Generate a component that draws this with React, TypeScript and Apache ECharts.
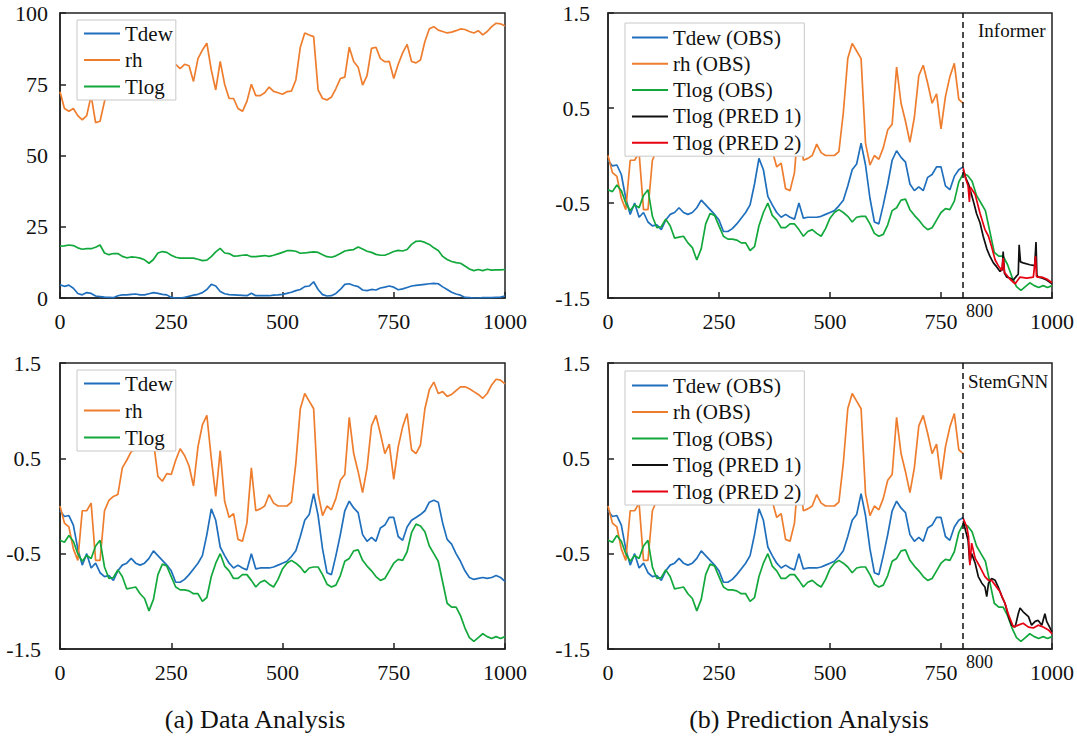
import React, { useEffect, useRef } from "react";
import * as echarts from "echarts";

// x positions of observed samples (every 10 steps)
const xs: number[] = Array.from({ length: 101 }, (_, i) => i * 10);

// ---- raw data (panel a, top) ----
const tdewRaw = [
  4.6, 4.1, 4.5, 3.4, 1.6, 1.1, 1.9, 1.6, 0.7, 0.5,
  0.3, 0.2, 0.1, 0.8, 1.1, 1.1, 1.3, 1.4, 1.1, 1.1,
  1.5, 1.9, 1.6, 1.3, 1.1, 0.2, 0, 0, 0.2, 0.6,
  1.0, 1.3, 1.9, 3.0, 4.8, 4.2, 2.3, 1.5, 1.2, 1.1,
  1.0, 0.9, 0.8, 1.7, 0.8, 0.8, 0.8, 0.8, 1.0, 1.1,
  1.3, 1.6, 2.0, 2.6, 3.0, 4.0, 4.2, 5.7, 3.0, 1.2,
  0.7, 0.8, 1.6, 3.0, 4.8, 5.0, 4.4, 4.0, 2.8, 2.6,
  3.0, 2.8, 3.5, 3.8, 4.2, 3.8, 2.9, 3.2, 3.7, 4.2,
  4.4, 4.6, 4.8, 5.0, 5.1, 5.0, 3.9, 3.0, 2.0, 1.4,
  1.0, 0.2, 0.1, 0, 0, 0.1, 0.1, 0.1, 0.2, 0.3,
  0.7,
];
const rhRaw = [
  72.4, 66.5, 65.5, 66.5, 64, 62.5, 64, 71, 61.5, 62,
  69, 72, 71, 73, 76, 77, 78, 79, 80, 81,
  81, 80, 76, 76, 78, 78, 82, 80.5, 82, 81.5,
  76, 84, 87, 89.4, 80, 73, 83, 75, 70, 70,
  66.5, 65.5, 69, 75, 71, 71, 72, 74, 72.5, 72,
  71.5, 72.4, 72.6, 76.5, 88, 93, 92.3, 91.7, 73, 70,
  69.5, 70.5, 73.5, 77, 77.5, 88, 83, 81, 74.7, 78,
  87.6, 88, 84, 82.9, 83, 77, 82, 86, 89, 83,
  82.5, 83.5, 90, 94.5, 95.2, 94, 93.5, 93, 93.3, 93.8,
  94.4, 94.2, 93.5, 93, 93.8, 92.3, 93.5, 95.2, 96.4, 96.2,
  95.4,
];
const tlogRaw = [
  18.2, 18.3, 18.6, 18.4, 17.6, 17.1, 17.3, 17.3, 17.8, 18.6,
  15.8, 15.2, 15.6, 15.6, 14.6, 14.1, 14.4, 14.3, 14.0, 13.4,
  12.2, 13.5, 15.8, 16.3, 16.0, 15.0, 14.3, 14.0, 14.0, 14.0,
  14.0, 13.6, 13.1, 13.3, 14.5, 16.2, 17.4, 15.8, 15.6, 14.7,
  14.8, 15.0, 15.1, 14.5, 14.5, 14.7, 14.9, 14.6, 15.0, 15.5,
  16.0, 16.6, 16.6, 16.4, 15.7, 15.8, 16.0, 16.2, 16.0, 15.2,
  14.5, 14.3, 14.8, 15.6, 16.5, 16.8, 17.0, 17.9, 17.2, 16.4,
  16.0, 15.3, 15.0, 15.0, 15.6, 16.3, 16.7, 16.5, 17.0, 18.8,
  19.9, 20.0, 19.5, 18.8, 17.6, 16.7, 14.6, 13.5, 12.8, 12.4,
  12.2, 11.2, 10.2, 9.6, 10.0, 9.6, 10.1, 9.8, 9.9, 9.9,
  10.0,
];

// ---- normalized data (panel a bottom, panel b) ----
const tdewN = [
  -0.05, -0.11, -0.1, -0.2, -0.45, -0.62, -0.5, -0.65, -0.6, -0.7,
  -0.74, -0.73, -0.78, -0.68, -0.62, -0.6, -0.55, -0.6, -0.62, -0.6,
  -0.55, -0.47, -0.52, -0.57, -0.62, -0.68, -0.8, -0.8, -0.77, -0.72,
  -0.66, -0.6, -0.52, -0.3, -0.03, -0.15, -0.43, -0.52, -0.6, -0.65,
  -0.62, -0.65, -0.67, -0.5, -0.66, -0.65, -0.65, -0.65, -0.64, -0.62,
  -0.6, -0.58, -0.53, -0.47, -0.32, -0.15, -0.09, 0.13, -0.1, -0.45,
  -0.7, -0.72, -0.52, -0.3, -0.05, 0.05, -0.02, -0.07, -0.3, -0.37,
  -0.33, -0.37, -0.23, -0.2, -0.12, -0.12, -0.32, -0.36, -0.22, -0.15,
  -0.12, -0.09, -0.05, 0.04, 0.06, 0.04, -0.18, -0.35, -0.4, -0.5,
  -0.58, -0.68, -0.75, -0.77, -0.76, -0.75, -0.76, -0.75, -0.73, -0.75,
  -0.79,
];
const rhN = [
  0.0, -0.18, -0.22, -0.45, -0.57, -0.05, -0.05, 0.03, -0.57, -0.57,
  -0.05, 0.06, 0.1, 0.12, 0.4, 0.48, 0.57, 0.6, 0.7, 0.75,
  0.78, 0.68, 0.31, 0.26, 0.34, 0.33, 0.48, 0.6, 0.53, 0.42,
  0.21, 0.62, 0.85, 0.95, 0.5, 0.1, 0.58, 0.05, -0.12, -0.08,
  -0.35, -0.37, -0.18, 0.4, -0.05, -0.03, 0.0, 0.12, 0.03, 0.0,
  0.0, 0.0, 0.04, 0.45, 1.02, 1.18, 1.1, 1.02, 0.13, -0.1,
  0.0, -0.04, 0.08, 0.27, 0.33, 0.93, 0.55, 0.36, 0.14, 0.4,
  0.84, 0.95, 0.76, 0.55, 0.65, 0.28, 0.62, 0.83, 0.97, 0.59,
  0.55, 0.64, 1.02, 1.22, 1.3, 1.18, 1.2, 1.15, 1.17, 1.21,
  1.25, 1.25, 1.23, 1.2, 1.17, 1.13, 1.18, 1.27, 1.33, 1.32,
  1.28,
];
const tlogN = [
  -0.36, -0.38, -0.31, -0.37, -0.5, -0.58, -0.52, -0.55, -0.42, -0.36,
  -0.64, -0.76, -0.75, -0.67, -0.74, -0.87, -0.86, -0.85, -0.92, -0.97,
  -1.1, -0.98, -0.72, -0.61, -0.63, -0.74, -0.85, -0.88, -0.88, -0.89,
  -0.92, -0.92, -1.0, -0.96, -0.74, -0.6, -0.5, -0.63, -0.68, -0.76,
  -0.76, -0.72, -0.72, -0.78, -0.85, -0.8, -0.78, -0.82, -0.85, -0.77,
  -0.66, -0.6, -0.57, -0.6, -0.64, -0.7, -0.65, -0.64, -0.64, -0.72,
  -0.82, -0.85, -0.83, -0.73, -0.58, -0.55, -0.47, -0.46, -0.57, -0.63,
  -0.68, -0.74, -0.78, -0.76, -0.68, -0.6, -0.56, -0.57, -0.48, -0.28,
  -0.19, -0.21, -0.27, -0.42, -0.5, -0.58, -0.8, -1.02, -1.06, -1.06,
  -1.15, -1.28, -1.38, -1.42, -1.38, -1.34, -1.37, -1.39, -1.37, -1.39,
  -1.37,
];

// ---- predictions (Informer) ----
const infP1X = [800, 806, 812, 818, 824, 830, 838, 845, 853, 860, 868, 875, 883, 888, 890, 893, 898, 905, 913, 920, 924, 926, 929, 935, 950, 961, 964, 966, 969, 977, 988, 1000];
const infP1Y = [-0.15, -0.24, -0.3, -0.4, -0.5, -0.61, -0.71, -0.85, -0.98, -1.06, -1.13, -1.17, -1.22, -1.2, -1.01, -1.24, -1.28, -1.29, -1.31, -1.27, -1.25, -0.94, -1.12, -1.13, -1.15, -1.16, -0.91, -1.26, -1.28, -1.29, -1.31, -1.35];
const infP2X = [800, 806, 811, 814, 816, 820, 827, 838, 849, 857, 864, 872, 879, 887, 890, 893, 905, 917, 928, 943, 958, 963, 965, 967, 977, 988, 1000];
const infP2Y = [-0.13, -0.25, -0.32, -0.49, -0.33, -0.36, -0.41, -0.61, -0.78, -0.85, -0.96, -1.1, -1.16, -1.21, -1.08, -1.23, -1.3, -1.35, -1.28, -1.29, -1.28, -1.06, -1.27, -1.28, -1.28, -1.3, -1.34];

// ---- predictions (StemGNN) ----
const stmP1X = [800, 806, 811, 815, 819, 827, 834, 842, 849, 853, 857, 864, 872, 879, 887, 894, 902, 909, 917, 924, 928, 935, 947, 954, 962, 969, 977, 984, 988, 1000];
const stmP1Y = [-0.16, -0.27, -0.36, -0.6, -0.5, -0.6, -0.74, -0.81, -0.85, -0.95, -0.81, -0.76, -0.78, -0.85, -0.95, -1.02, -1.16, -1.25, -1.27, -1.13, -1.07, -1.11, -1.16, -1.25, -1.21, -1.2, -1.25, -1.13, -1.21, -1.32];
const stmP2X = [800, 808, 812, 815, 819, 827, 838, 849, 857, 864, 872, 883, 894, 902, 913, 924, 935, 947, 958, 969, 980, 992, 1000];
const stmP2Y = [-0.13, -0.22, -0.32, -0.62, -0.39, -0.55, -0.64, -0.74, -0.78, -0.78, -0.83, -0.9, -1.02, -1.14, -1.27, -1.25, -1.23, -1.27, -1.28, -1.25, -1.27, -1.3, -1.34];

const xTicks = [0, 250, 500, 750, 1000];
const rawYTicks = [0, 25, 50, 75, 100];
const normYTicks = [-1.5, -0.5, 0.5, 1.5];
const cutoff = 800;

const FONT = "Liberation Serif";
const C_BLUE = "#1f6fbd";
const C_ORANGE = "#ee7d2e";
const C_GREEN = "#13a83c";
const C_BLACK = "#111111";
const C_RED = "#e60012";
const AX = "#222222";

const zip = (a: number[], b: number[]) => a.map((v, i) => [v, b[i]]);

const tickLabel = (margin: number) => ({
  margin,
  color: "#111",
  fontFamily: FONT,
  fontSize: 22,
  formatter: (v: number) => String(v),
});

function xAxisFor(gi: number) {
  return {
    gridIndex: gi,
    type: "value",
    min: xTicks[0],
    max: xTicks[xTicks.length - 1],
    interval: xTicks[1] - xTicks[0],
    axisLine: { show: true, onZero: false, lineStyle: { color: AX, width: 1.5 } },
    axisTick: { show: true, inside: true, length: 6, lineStyle: { color: AX, width: 1.5 } },
    axisLabel: tickLabel(12),
    splitLine: { show: false },
  };
}
function yAxisFor(gi: number, ticks: number[], margin: number) {
  return {
    gridIndex: gi,
    type: "value",
    min: ticks[0],
    max: ticks[ticks.length - 1],
    interval: ticks[1] - ticks[0],
    axisLine: { show: true, onZero: false, lineStyle: { color: AX, width: 1.5 } },
    axisTick: { show: true, inside: true, length: 6, lineStyle: { color: AX, width: 1.5 } },
    axisLabel: tickLabel(margin),
    splitLine: { show: false },
  };
}
function line(name: string, gi: number, data: number[][], color: string, z = 2, extra: any = {}) {
  return {
    type: "line",
    name,
    xAxisIndex: gi,
    yAxisIndex: gi,
    data,
    symbol: "none",
    showSymbol: false,
    silent: true,
    z,
    lineStyle: { color, width: 1.7 },
    itemStyle: { color },
    ...extra,
  };
}
function legendFor(left: number, top: number, names: string[], gap: number, padTop: number) {
  return {
    orient: "vertical",
    left,
    top,
    data: names,
    icon: "rect",
    itemWidth: 36,
    itemHeight: 2,
    itemGap: gap,
    padding: [padTop, 3, 3, 7],
    backgroundColor: "#ffffff",
    borderColor: "#c8c8c8",
    borderWidth: 1,
    borderRadius: 0,
    z: 20,
    selectedMode: false,
    textStyle: { fontFamily: FONT, fontSize: 21, color: "#111", lineHeight: 20 },
  };
}
const cutMark = {
  symbol: ["none", "none"],
  silent: true,
  label: { show: false },
  lineStyle: { color: "#111", type: [6, 4], width: 1.5 },
  data: [{ xAxis: cutoff }],
};

export default function App() {
  const ref = useRef<HTMLDivElement>(null);
  useEffect(() => {
    document.body.style.margin = "0";
    if (!ref.current) return;
    const chart = echarts.init(ref.current, null, { renderer: "svg" });
    const xObs = xs.slice(0, 81);
    const series: any[] = [
      // panel 0: raw
      line("Tdew", 0, zip(xs, tdewRaw), C_BLUE),
      line("rh", 0, zip(xs, rhRaw), C_ORANGE),
      line("Tlog", 0, zip(xs, tlogRaw), C_GREEN),
      // panel 2: normalized
      line("Tdew", 2, zip(xs, tdewN), C_BLUE),
      line("rh", 2, zip(xs, rhN), C_ORANGE),
      line("Tlog", 2, zip(xs, tlogN), C_GREEN),
      // panel 1: Informer
      line("Tdew (OBS)", 1, zip(xObs, tdewN.slice(0, 81)), C_BLUE),
      line("rh (OBS)", 1, zip(xObs, rhN.slice(0, 81)), C_ORANGE),
      line("Tlog (OBS)", 1, zip(xs, tlogN), C_GREEN, 2, { markLine: cutMark }),
      line("Tlog (PRED 1)", 1, zip(infP1X, infP1Y), C_BLACK, 3),
      line("Tlog (PRED 2)", 1, zip(infP2X, infP2Y), C_RED, 4),
      // panel 3: StemGNN
      line("Tdew (OBS)", 3, zip(xObs, tdewN.slice(0, 81)), C_BLUE),
      line("rh (OBS)", 3, zip(xObs, rhN.slice(0, 81)), C_ORANGE),
      line("Tlog (OBS)", 3, zip(xs, tlogN), C_GREEN, 2, { markLine: cutMark }),
      line("Tlog (PRED 1)", 3, zip(stmP1X, stmP1Y), C_BLACK, 3),
      line("Tlog (PRED 2)", 3, zip(stmP2X, stmP2Y), C_RED, 4),
    ];
    const obsNames = ["Tdew (OBS)", "rh (OBS)", "Tlog (OBS)", "Tlog (PRED 1)", "Tlog (PRED 2)"];
    const gridBase = { show: true, borderColor: AX, borderWidth: 1.5, backgroundColor: "transparent", containLabel: false };
    const txt = (x: number, y: number, text: string, size: number, align = "left") => ({
      type: "text",
      x,
      y,
      silent: true,
      z: 30,
      style: { text, fill: "#111", font: `${size}px ${FONT}`, align, verticalAlign: "middle" },
    });
    chart.setOption({
      animation: false,
      backgroundColor: "#ffffff",
      textStyle: { fontFamily: FONT },
      grid: [
        { ...gridBase, left: 60, top: 13, width: 445, height: 285 },
        { ...gridBase, left: 608, top: 13, width: 444, height: 285 },
        { ...gridBase, left: 60, top: 363, width: 445, height: 286 },
        { ...gridBase, left: 608, top: 363, width: 444, height: 286 },
      ],
      xAxis: [xAxisFor(0), xAxisFor(1), xAxisFor(2), xAxisFor(3)],
      yAxis: [
        yAxisFor(0, rawYTicks, 12),
        yAxisFor(1, normYTicks, 18),
        yAxisFor(2, normYTicks, 19),
        yAxisFor(3, normYTicks, 18),
      ],
      legend: [
        legendFor(77, 20, ["Tdew", "rh", "Tlog"], 5.5, 3),
        legendFor(625, 23, obsNames, 5.3, 4),
        legendFor(77, 370, ["Tdew", "rh", "Tlog"], 6, 3),
        legendFor(625, 371, obsNames, 5.5, 4),
      ],
      graphic: [
        txt(966, 311, "800", 18),
        txt(966, 662, "800", 18),
        txt(978, 30, "Informer", 19),
        txt(968, 381, "StemGNN", 19),
        txt(255, 719, "(a) Data Analysis", 26, "center"),
        txt(809, 719, "(b) Prediction Analysis", 26, "center"),
      ],
      series,
    });
    return () => chart.dispose();
  }, []);
  return <div ref={ref} style={{ width: 1077, height: 740 }} />;
}
